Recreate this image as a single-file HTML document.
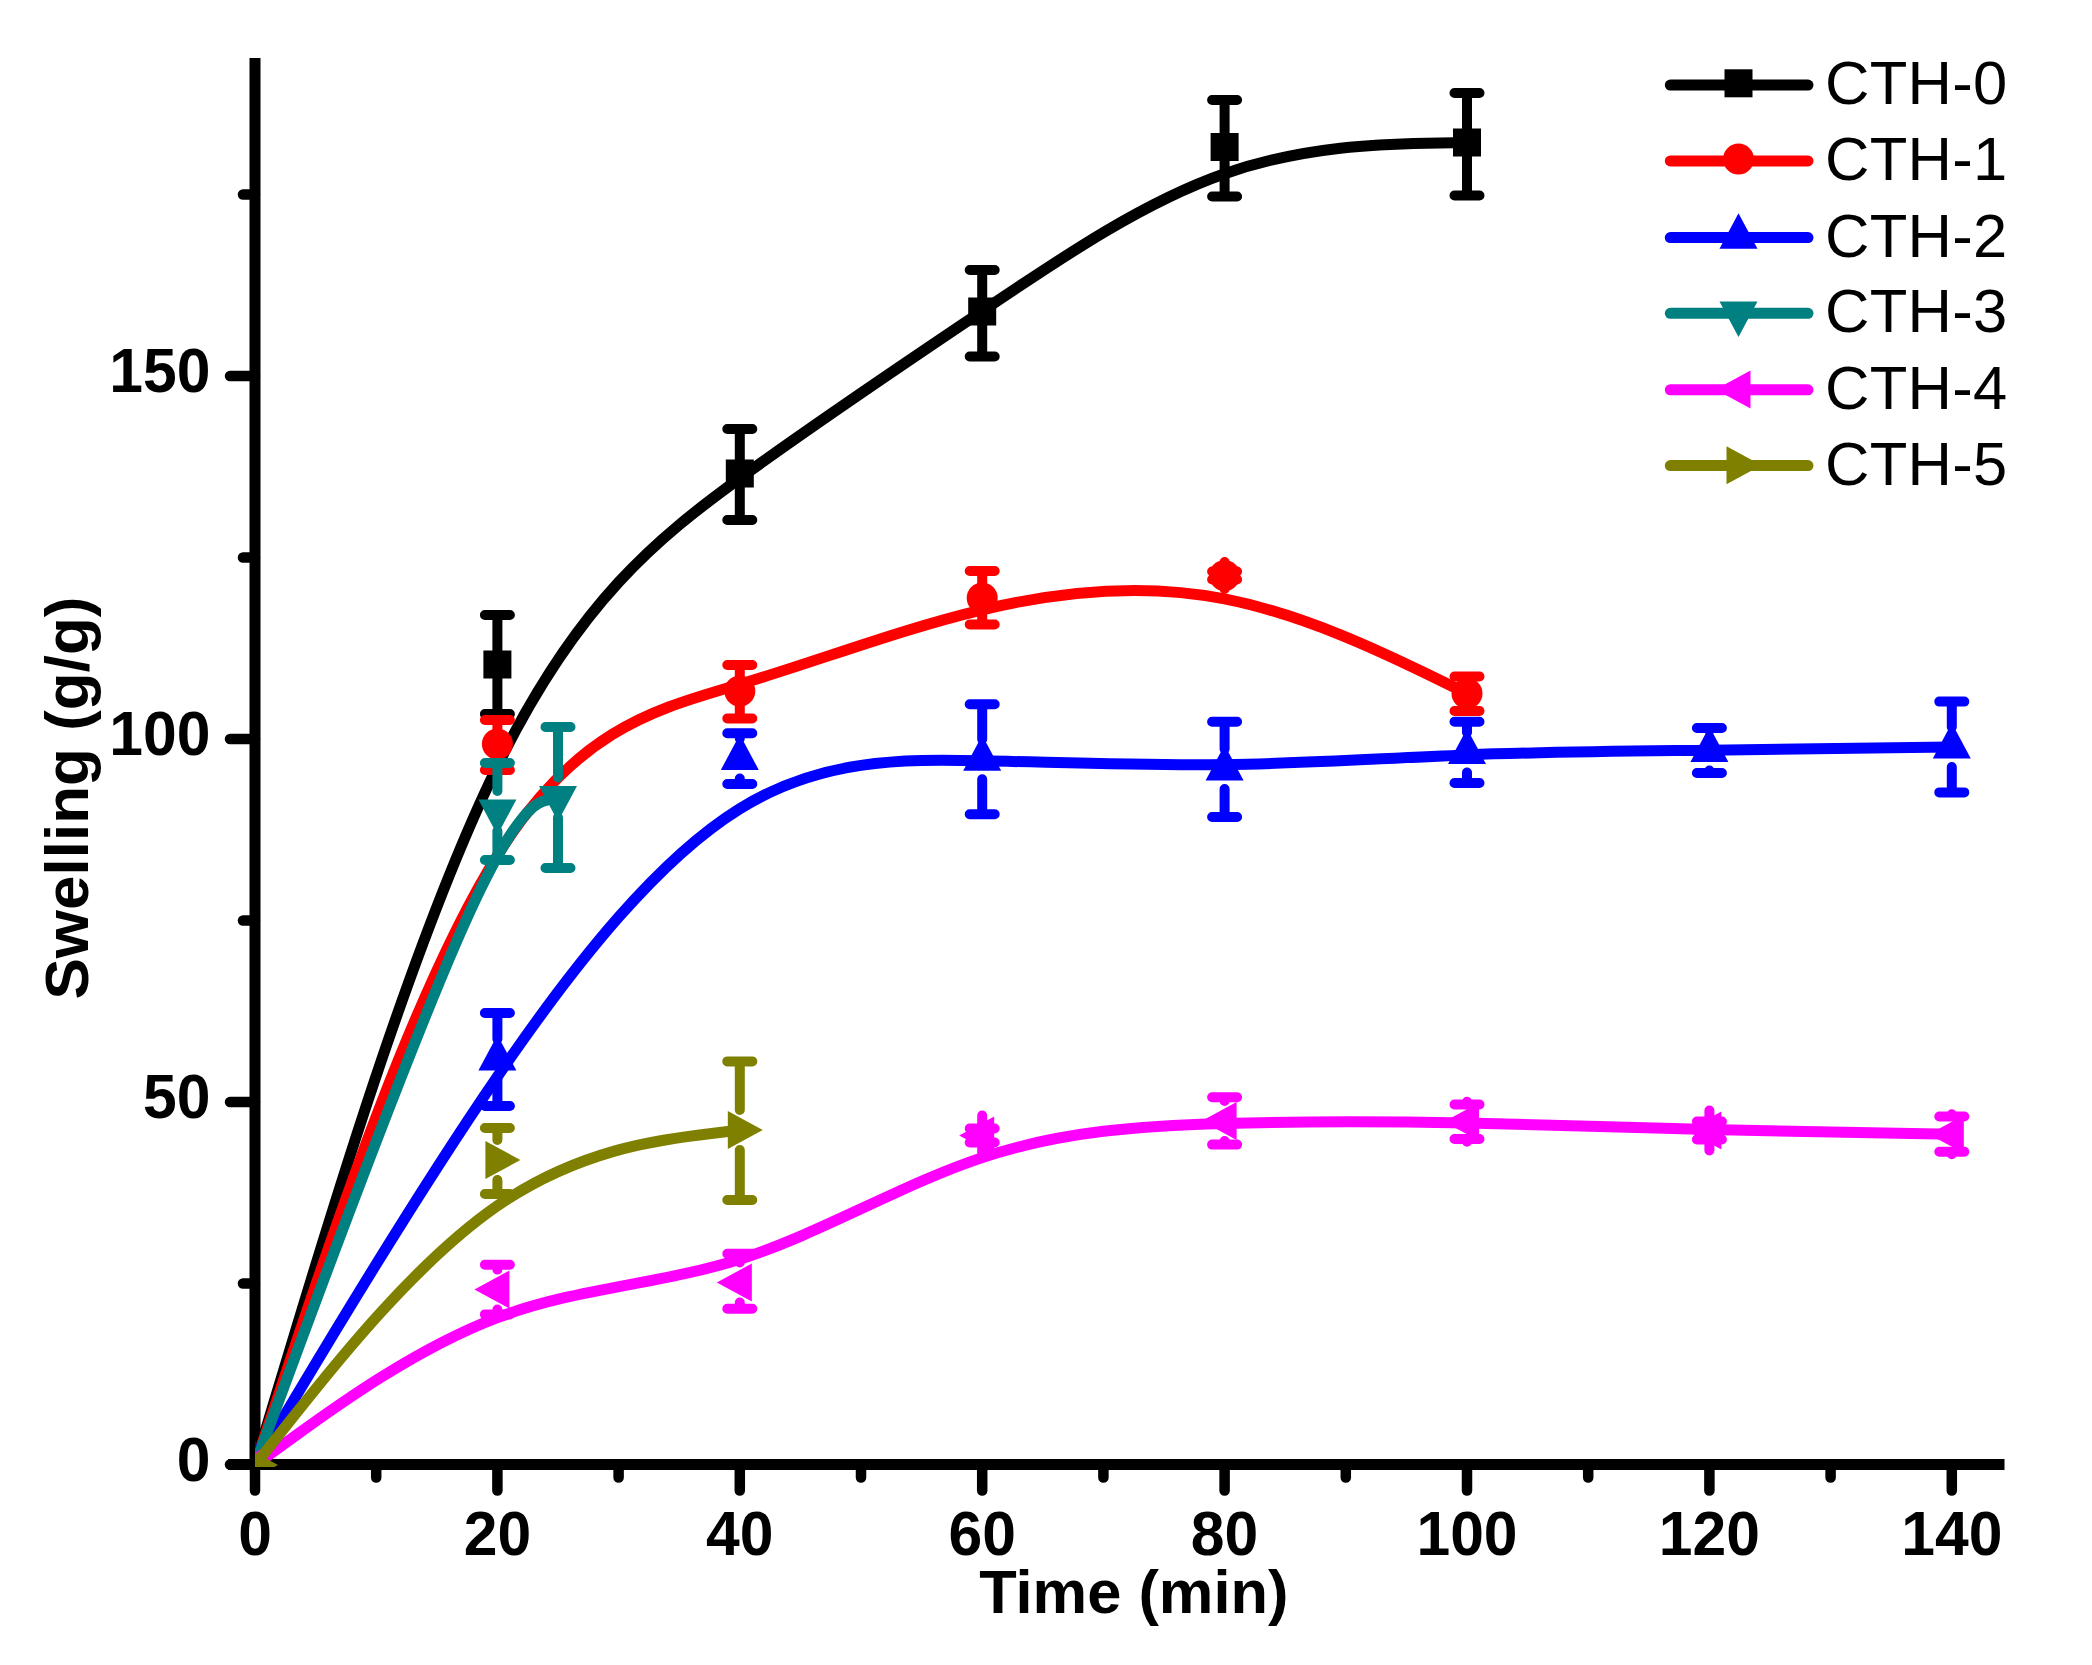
<!DOCTYPE html>
<html lang="en"><head><meta charset="utf-8"><title>Swelling vs Time</title>
<style>html,body{margin:0;padding:0;background:#fff}svg{display:block}text{font-family:"Liberation Sans",Arial,sans-serif;fill:#000}.b{font-weight:bold;font-size:62px}.t{font-size:63.5px}.l{font-size:61.5px;letter-spacing:0.3px}</style></head><body>
<svg width="2092" height="1665" viewBox="0 0 2092 1665">
<rect width="2092" height="1665" fill="#fff"/>
<defs><clipPath id="pc"><rect x="255" y="0" width="1837" height="1467"/></clipPath></defs>
<g stroke="#000" stroke-width="11" fill="none">
<path d="M255 58V1470" stroke-linecap="butt"/>
<path d="M228 1464.5H2004.5" stroke-linecap="butt"/>
</g>
<g stroke="#000" stroke-width="10.5" stroke-linecap="round" fill="none">
<path d="M230 1464.5H255"/>
<path d="M230 1102H255"/>
<path d="M230 739H255"/>
<path d="M230 376H255"/>
<path d="M243 1283.5H255"/>
<path d="M243 920.5H255"/>
<path d="M243 557.5H255"/>
<path d="M243 194.5H255"/>
<path d="M255 1465V1490.5"/>
<path d="M497.4 1465V1490.5"/>
<path d="M739.8 1465V1490.5"/>
<path d="M982.2 1465V1490.5"/>
<path d="M1224.6 1465V1490.5"/>
<path d="M1467 1465V1490.5"/>
<path d="M1709.4 1465V1490.5"/>
<path d="M1951.8 1465V1490.5"/>
<path d="M376.2 1465V1477.5"/>
<path d="M618.6 1465V1477.5"/>
<path d="M861 1465V1477.5"/>
<path d="M1103.4 1465V1477.5"/>
<path d="M1345.8 1465V1477.5"/>
<path d="M1588.2 1465V1477.5"/>
<path d="M1830.6 1465V1477.5"/>
</g>
<g clip-path="url(#pc)">
<g>
<path d="M255 1465C255 1465 255 1465 295.4 1331.6C335.8 1198.2 416.6 931.3 497.4 766.1C578.2 600.8 659 537.2 739.8 478.3C820.6 419.5 901.4 365.5 982.2 311.1C1063 256.7 1143.8 201.8 1224.6 173.7C1305.4 145.5 1386.2 144 1426.6 143.2C1467 142.5 1467 142.5 1467 142.5" fill="none" stroke="#000000" stroke-width="11" stroke-linecap="round" stroke-linejoin="round"/>
<path d="M484.9 615H509.9M484.9 714H509.9M497.4 615V652.5M497.4 676.5V714M727.3 429H752.3M727.3 520H752.3M739.8 429V461.5M739.8 485.5V520M969.7 270H994.7M969.7 356.5H994.7M982.2 270V299.5M982.2 323.5V356.5M1212.1 100H1237.1M1212.1 196.5H1237.1M1224.6 100V135M1224.6 159V196.5M1454.5 93H1479.5M1454.5 195.5H1479.5M1467 93V130.5M1467 154.5V195.5" fill="none" stroke="#000000" stroke-width="10" stroke-linecap="round"/>
<rect x="241" y="1451" width="28" height="28" fill="#000000"/>
<rect x="483.4" y="650.5" width="28" height="28" fill="#000000"/>
<rect x="725.8" y="459.5" width="28" height="28" fill="#000000"/>
<rect x="968.2" y="297.5" width="28" height="28" fill="#000000"/>
<rect x="1210.6" y="133" width="28" height="28" fill="#000000"/>
<rect x="1453" y="128.5" width="28" height="28" fill="#000000"/>
</g>
<g>
<path d="M255 1465C255 1465 255 1465 295.4 1344.8C335.8 1224.7 416.6 984.3 497.4 855.3C578.2 726.3 659 708.7 739.8 684.3C820.6 660 901.4 629 982.2 609.8C1063 590.5 1143.8 583 1224.6 598.9C1305.4 614.8 1386.2 654.2 1426.6 673.8C1467 693.5 1467 693.5 1467 693.5" fill="none" stroke="#ff0000" stroke-width="11" stroke-linecap="round" stroke-linejoin="round"/>
<path d="M484.9 720H509.9M484.9 770H509.9M497.4 720V730.5M497.4 757.5V770M727.3 665H752.3M727.3 718.5H752.3M739.8 665V677.5M739.8 704.5V718.5M969.7 571H994.7M969.7 624.5H994.7M982.2 571V584.5M982.2 611.5V624.5M1212.1 571.5H1237.1M1212.1 579.5H1237.1M1224.6 571.5V562M1224.6 589V579.5M1454.5 676.5H1479.5M1454.5 711H1479.5M1467 676.5V680M1467 707V711" fill="none" stroke="#ff0000" stroke-width="10" stroke-linecap="round"/>
<circle cx="255" cy="1465" r="15.5" fill="#ff0000"/>
<circle cx="497.4" cy="744" r="15.5" fill="#ff0000"/>
<circle cx="739.8" cy="691" r="15.5" fill="#ff0000"/>
<circle cx="982.2" cy="598" r="15.5" fill="#ff0000"/>
<circle cx="1224.6" cy="575.5" r="15.5" fill="#ff0000"/>
<circle cx="1467" cy="693.5" r="15.5" fill="#ff0000"/>
</g>
<g>
<path d="M255 1465C255 1465 255 1465 295.4 1397.3C335.8 1329.7 416.6 1194.3 497.4 1076.6C578.2 958.8 659 858.7 739.8 808.7C820.6 758.8 901.4 759 982.2 760.8C1063 762.5 1143.8 765.8 1224.6 764.6C1305.4 763.5 1386.2 758 1467 754.9C1547.8 751.8 1628.6 751.2 1709.4 750.2C1790.2 749.3 1871 748.2 1911.4 747.6C1951.8 747 1951.8 747 1951.8 747" fill="none" stroke="#0000ff" stroke-width="11" stroke-linecap="round" stroke-linejoin="round"/>
<path d="M484.9 1013H509.9M484.9 1106H509.9M497.4 1013V1039M497.4 1079V1106M727.3 733.2H752.3M727.3 784H752.3M739.8 733.2V738.5M739.8 778.5V784M969.7 704.3H994.7M969.7 814.3H994.7M982.2 704.3V739.3M982.2 779.3V814.3M1212.1 721.8H1237.1M1212.1 817H1237.1M1224.6 721.8V749M1224.6 789V817M1454.5 721.8H1479.5M1454.5 783H1479.5M1467 721.8V732.5M1467 772.5V783M1696.9 728H1721.9M1696.9 773H1721.9M1709.4 728V730.5M1709.4 770.5V773M1939.3 701.6H1964.3M1939.3 792.4H1964.3M1951.8 701.6V727M1951.8 767V792.4" fill="none" stroke="#0000ff" stroke-width="10" stroke-linecap="round"/>
<polygon points="255,1441 236,1476.5 274,1476.5" fill="#0000ff"/>
<polygon points="497.4,1035 478.4,1070.5 516.4,1070.5" fill="#0000ff"/>
<polygon points="739.8,734.5 720.8,770 758.8,770" fill="#0000ff"/>
<polygon points="982.2,735.3 963.2,770.8 1001.2,770.8" fill="#0000ff"/>
<polygon points="1224.6,745 1205.6,780.5 1243.6,780.5" fill="#0000ff"/>
<polygon points="1467,728.5 1448,764 1486,764" fill="#0000ff"/>
<polygon points="1709.4,726.5 1690.4,762 1728.4,762" fill="#0000ff"/>
<polygon points="1951.8,723 1932.8,758.5 1970.8,758.5" fill="#0000ff"/>
</g>
<g>
<path d="M255 1465C255 1465 255 1465 295.4 1356C335.8 1247 416.6 1029 467.1 917.8C517.6 806.5 537.8 802 547.9 799.8C558 797.5 558 797.5 558 797.5" fill="none" stroke="#008080" stroke-width="11" stroke-linecap="round" stroke-linejoin="round"/>
<path d="M484.9 763H509.9M484.9 860H509.9M497.4 763V791M497.4 831V860M545.5 727H570.5M545.5 868H570.5M558 727V777.5M558 817.5V868" fill="none" stroke="#008080" stroke-width="10" stroke-linecap="round"/>
<polygon points="255,1489 236,1453.5 274,1453.5" fill="#008080"/>
<polygon points="497.4,835 478.4,799.5 516.4,799.5" fill="#008080"/>
<polygon points="558,821.5 539,786 577,786" fill="#008080"/>
</g>
<g>
<path d="M255 1465C255 1465 255 1465 295.4 1435.8C335.8 1406.5 416.6 1348.1 497.4 1317.6C578.2 1287.2 659 1284.9 739.8 1259.2C820.6 1233.5 901.4 1184.5 982.2 1157.6C1063 1130.7 1143.8 1125.8 1224.6 1123.5C1305.4 1121.2 1386.2 1121.5 1467 1123C1547.8 1124.6 1628.6 1127.6 1709.4 1129.6C1790.2 1131.7 1871 1133 1911.4 1133.6C1951.8 1134.2 1951.8 1134.2 1951.8 1134.2" fill="none" stroke="#ff00ff" stroke-width="11" stroke-linecap="round" stroke-linejoin="round"/>
<path d="M484.9 1264.7H509.9M484.9 1314.4H509.9M497.4 1264.7V1269.6M497.4 1309.6V1314.4M727.3 1253.7H752.3M727.3 1308.7H752.3M739.8 1253.7V1262.5M739.8 1302.5V1308.7M969.7 1128.5H994.7M969.7 1142.5H994.7M982.2 1128.5V1115.5M982.2 1155.5V1142.5M1212.1 1097.3H1237.1M1212.1 1144.6H1237.1M1224.6 1097.3V1101M1224.6 1141V1144.6M1454.5 1104.5H1479.5M1454.5 1139H1479.5M1467 1104.5V1101.7M1467 1141.7V1139M1696.9 1121.5H1721.9M1696.9 1139.5H1721.9M1709.4 1121.5V1110.5M1709.4 1150.5V1139.5M1939.3 1116.5H1964.3M1939.3 1151.8H1964.3M1951.8 1116.5V1114.2M1951.8 1154.2V1151.8" fill="none" stroke="#ff00ff" stroke-width="10" stroke-linecap="round"/>
<polygon points="232,1465 267,1446 267,1484" fill="#ff00ff"/>
<polygon points="474.4,1289.6 509.4,1270.6 509.4,1308.6" fill="#ff00ff"/>
<polygon points="716.8,1282.5 751.8,1263.5 751.8,1301.5" fill="#ff00ff"/>
<polygon points="959.2,1135.5 994.2,1116.5 994.2,1154.5" fill="#ff00ff"/>
<polygon points="1201.6,1121 1236.6,1102 1236.6,1140" fill="#ff00ff"/>
<polygon points="1444,1121.7 1479,1102.7 1479,1140.7" fill="#ff00ff"/>
<polygon points="1686.4,1130.5 1721.4,1111.5 1721.4,1149.5" fill="#ff00ff"/>
<polygon points="1928.8,1134.2 1963.8,1115.2 1963.8,1153.2" fill="#ff00ff"/>
</g>
<g>
<path d="M255 1465C255 1465 255 1465 295.4 1414.2C335.8 1363.3 416.6 1261.7 497.4 1205.8C578.2 1150 659 1140 699.4 1135C739.8 1130 739.8 1130 739.8 1130" fill="none" stroke="#808000" stroke-width="11" stroke-linecap="round" stroke-linejoin="round"/>
<path d="M484.9 1128H509.9M484.9 1194H509.9M497.4 1128V1140M497.4 1180V1194M727.3 1061.4H752.3M727.3 1200H752.3M739.8 1061.4V1110M739.8 1150V1200" fill="none" stroke="#808000" stroke-width="10" stroke-linecap="round"/>
<polygon points="278,1465 243,1446 243,1484" fill="#808000"/>
<polygon points="520.4,1160 485.4,1141 485.4,1179" fill="#808000"/>
<polygon points="762.8,1130 727.8,1111 727.8,1149" fill="#808000"/>
</g>
</g>
<text class="b t" transform="translate(255 1555.3) scale(0.955 1)" text-anchor="middle">0</text>
<text class="b t" transform="translate(497.4 1555.3) scale(0.955 1)" text-anchor="middle">20</text>
<text class="b t" transform="translate(739.8 1555.3) scale(0.955 1)" text-anchor="middle">40</text>
<text class="b t" transform="translate(982.2 1555.3) scale(0.955 1)" text-anchor="middle">60</text>
<text class="b t" transform="translate(1224.6 1555.3) scale(0.955 1)" text-anchor="middle">80</text>
<text class="b t" transform="translate(1467 1555.3) scale(0.955 1)" text-anchor="middle">100</text>
<text class="b t" transform="translate(1709.4 1555.3) scale(0.955 1)" text-anchor="middle">120</text>
<text class="b t" transform="translate(1951.8 1555.3) scale(0.955 1)" text-anchor="middle">140</text>
<text class="b t" transform="translate(210.5 1481) scale(0.955 1)" text-anchor="end">0</text>
<text class="b t" transform="translate(210.5 1118) scale(0.955 1)" text-anchor="end">50</text>
<text class="b t" transform="translate(210.5 755) scale(0.955 1)" text-anchor="end">100</text>
<text class="b t" transform="translate(210.5 392) scale(0.955 1)" text-anchor="end">150</text>
<text class="b" style="font-size:61.4px" x="1133.8" y="1613" text-anchor="middle">Time (min)</text>
<text class="b" transform="translate(88 798) rotate(-90)" text-anchor="middle">Swelling (g/g)</text>
<path d="M1670.3 85.1H1808" stroke="#000000" stroke-width="11" stroke-linecap="round" fill="none"/>
<rect x="1724.5" y="69.3" width="28" height="28" fill="#000000"/>
<text class="l" x="1825" y="104.2">CTH-0</text>
<path d="M1670.3 160.9H1808" stroke="#ff0000" stroke-width="11" stroke-linecap="round" fill="none"/>
<circle cx="1738.5" cy="159.1" r="15.5" fill="#ff0000"/>
<text class="l" x="1825" y="180">CTH-1</text>
<path d="M1670.3 237.6H1808" stroke="#0000ff" stroke-width="11" stroke-linecap="round" fill="none"/>
<polygon points="1738.5,213.2 1719.5,248.7 1757.5,248.7" fill="#0000ff"/>
<text class="l" x="1825" y="256.7">CTH-2</text>
<path d="M1670.3 313.3H1808" stroke="#008080" stroke-width="11" stroke-linecap="round" fill="none"/>
<polygon points="1738.5,336.9 1719.5,301.4 1757.5,301.4" fill="#008080"/>
<text class="l" x="1825" y="332.4">CTH-3</text>
<path d="M1670.3 389.8H1808" stroke="#ff00ff" stroke-width="11" stroke-linecap="round" fill="none"/>
<polygon points="1715.5,389.4 1750.5,370.4 1750.5,408.4" fill="#ff00ff"/>
<text class="l" x="1825" y="408.9">CTH-4</text>
<path d="M1670.3 465.6H1808" stroke="#808000" stroke-width="11" stroke-linecap="round" fill="none"/>
<polygon points="1761.5,465.2 1726.5,446.2 1726.5,484.2" fill="#808000"/>
<text class="l" x="1825" y="484.7">CTH-5</text>
</svg></body></html>
